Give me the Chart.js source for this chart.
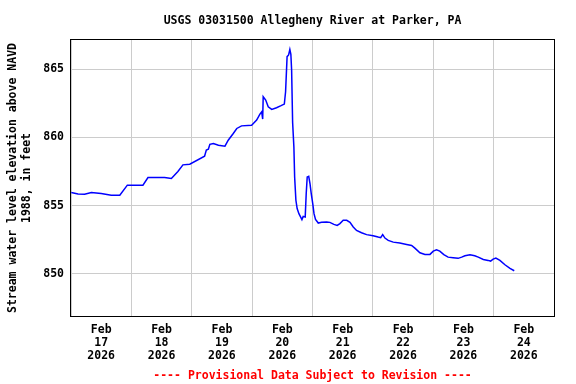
<!DOCTYPE html>
<html><head><meta charset="utf-8">
<script src="https://cdn.jsdelivr.net/npm/chart.js@4"></script>
<style>html,body{margin:0;padding:0;background:#fff}</style>
</head><body>
<canvas id="c" width="576" height="384"></canvas>
<script>
const titleText = 'USGS 03031500 Allegheny River at Parker, PA';
const yTitle = ['Stream water level elevation above NAVD', '1988, in feet'];
const footerText = '---- Provisional Data Subject to Revision ----';
const monthLabel = 'Feb';
const yearLabel = '2026';
const dayLabels = ['17', '18', '19', '20', '21', '22', '23', '24'];
const yTicks = [850, 855, 860, 865];
// hours since Feb 17 2026 00:00
const hours = [0.1, 2.8, 5.4, 8.1, 12.0, 16.0, 19.4, 22.4, 28.6, 30.6, 37.2, 39.9, 42.5, 44.5, 47.2, 53.1, 53.8,
  54.6, 55.2, 56.6, 58.6, 61.2, 62.5, 64.5, 65.9, 67.8, 71.8, 73.8, 75.1, 75.8, 76.2, 76.4, 77.4, 78.4, 79.8,
  81.7, 83.5, 84.8, 85.3, 85.9, 86.5, 87.0, 87.4, 87.7, 88.1, 88.6, 88.9, 89.4, 89.9, 90.6, 91.3, 91.8, 92.3,
  93.1, 93.5, 93.9, 94.5, 95.0, 95.5, 96.1, 96.6, 97.2, 98.3, 99.6, 101.6, 102.9, 104.5, 105.8, 106.9, 108.2,
  109.6, 110.9, 112.2, 113.5, 115.5, 117.5, 120.1, 122.1, 123.1, 123.9, 124.8, 126.1, 128.1, 130.7, 133.4,
  135.4, 136.7, 138.7, 140.7, 142.7, 144.0, 145.3, 146.6, 148.2, 149.9, 151.9, 153.9, 155.3, 156.6, 158.6,
  160.5, 161.9, 163.9, 165.8, 166.8, 167.8, 168.9, 170.5, 172.5, 174.5, 176.2];
const levels = [855.96, 855.85, 855.83, 855.96, 855.88, 855.76, 855.76, 856.50, 856.50, 857.06, 857.06, 856.99, 857.50, 857.99, 858.04, 858.62, 859.07,
  859.14, 859.50, 859.56, 859.43, 859.36, 859.80, 860.29, 860.66, 860.85, 860.90, 861.27, 861.71, 861.88, 861.35, 862.99, 862.74, 862.25, 862.06,
  862.18, 862.33, 862.45, 863.35, 865.93, 866.05, 866.45, 866.10, 864.95, 861.10, 859.31, 857.10, 855.39, 854.78, 854.41, 854.16, 853.97, 854.21,
  854.16, 855.88, 857.10, 857.15, 856.62, 855.88, 855.15, 854.41, 853.99, 853.72, 853.77, 853.79, 853.77, 853.62, 853.55, 853.68, 853.92,
  853.92, 853.77, 853.43, 853.18, 853.01, 852.87, 852.79, 852.69, 852.65, 852.87, 852.62, 852.45, 852.32, 852.25, 852.15,
  852.08, 851.88, 851.54, 851.42, 851.42, 851.66, 851.76, 851.66, 851.40, 851.22, 851.18, 851.13, 851.22, 851.32, 851.40,
  851.32, 851.22, 851.05, 850.98, 850.93, 851.07, 851.15, 850.98, 850.66, 850.39, 850.22];

const FAM = "'DejaVu Sans Mono', 'Liberation Mono', monospace";
const font = {family: FAM, size: 11.5, weight: 'bold', lineHeight: 1.13};

const framePlugin = {
  id: 'frame',
  afterDraw(chart) {
    const a = chart.chartArea, ctx = chart.ctx;
    ctx.save();
    ctx.strokeStyle = '#000';
    ctx.lineWidth = 1;
    ctx.strokeRect(Math.round(a.left) - 0.5, Math.round(a.top) - 0.5, Math.round(a.right - a.left) + 1, Math.round(a.bottom - a.top) + 1);
    ctx.restore();
  }
};

new Chart(document.getElementById('c'), {
  type: 'line',
  data: {
    datasets: [{
      data: hours.map((h, i) => ({x: h, y: levels[i]})),
      borderColor: '#0000ff',
      borderWidth: 1.5,
      pointRadius: 0,
      tension: 0,
      fill: false
    }]
  },
  options: {
    responsive: false,
    animation: false,
    devicePixelRatio: 1,
    layout: {padding: {left: 0, right: 22, top: 0, bottom: 0}},
    plugins: {
      legend: {display: false},
      tooltip: {enabled: false},
      title: {display: true, fullSize: false, text: titleText, color: '#000', font: font, padding: {top: 15, bottom: 12}},
      subtitle: {display: true, fullSize: false, position: 'bottom', text: footerText, color: '#ff0000', font: font, padding: {top: 0, bottom: 1}}
    },
    scales: {
      x: {
        type: 'linear',
        min: 0,
        max: dayLabels.length * 24,
        afterBuildTicks: s => { s.ticks = []; for (let h = 0; h <= dayLabels.length * 24; h += 12) s.ticks.push({value: h}); },
        afterFit: s => { s.height = 54; },
        grid: {
          color: c => (c.tick && c.tick.value % 24 === 0) ? '#cccccc' : 'rgba(0,0,0,0)',
          lineWidth: 1,
          drawTicks: false
        },
        border: {display: false},
        ticks: {
          autoSkip: false,
          maxRotation: 0,
          minRotation: 0,
          padding: 8,
          color: '#000',
          font: font,
          callback: v => {
            if (v % 24 !== 12) return '';
            const d = Math.floor(v / 24);
            return [monthLabel, dayLabels[d], yearLabel];
          }
        }
      },
      y: {
        type: 'linear',
        min: 846.9,
        max: 867.15,
        afterBuildTicks: s => { s.ticks = yTicks.map(v => ({value: v})); },
        afterFit: s => { s.width = 71; },
        grid: {color: '#cccccc', lineWidth: 1, drawTicks: false},
        border: {display: false},
        ticks: {padding: 7, color: '#000', font: font},
        title: {display: true, text: yTitle, color: '#000', font: {family: FAM, size: 11.5, weight: 'bold', lineHeight: 1.2}, padding: {top: 6, bottom: 0}}
      }
    }
  },
  plugins: [framePlugin]
});
</script>
</body></html>
